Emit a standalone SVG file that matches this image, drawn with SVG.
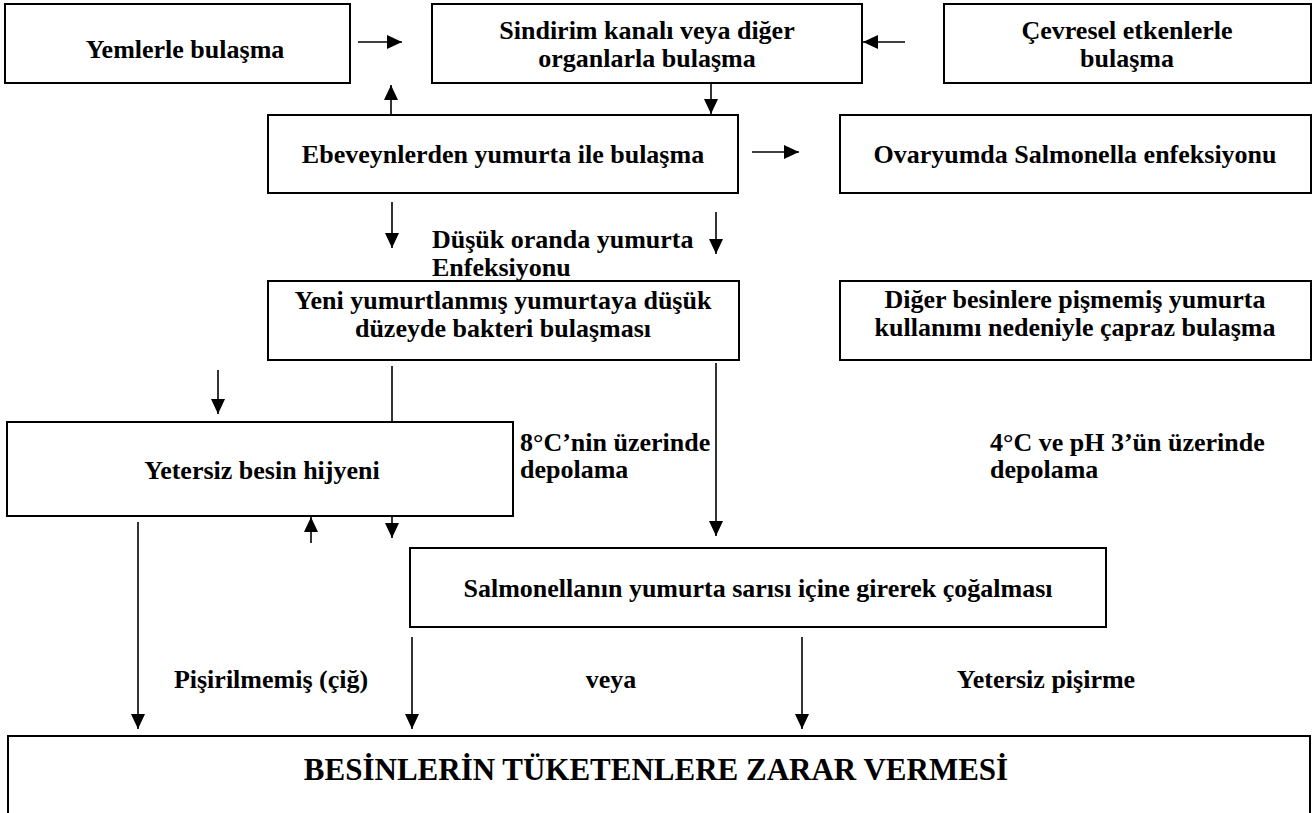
<svg xmlns="http://www.w3.org/2000/svg" width="1315" height="813" viewBox="0 0 1315 813">
<style>
  .box { fill: #ffffff; stroke: #000000; stroke-width: 2; }
  .t { font-family: "Liberation Serif", "Times New Roman", serif; font-weight: bold; font-size: 26px; fill: #000000; }
  .c { text-anchor: middle; }
  .big { font-size: 31px; }
  .ln { stroke: #000000; stroke-width: 1.6; fill: none; marker-end: url(#ah); }
</style>
<defs>
  <marker id="ah" markerUnits="userSpaceOnUse" markerWidth="15" markerHeight="14" refX="15" refY="7" orient="auto">
    <path d="M0,0 L15,7 L0,14 z" fill="#000000"/>
  </marker>
</defs>
<rect x="0" y="0" width="1315" height="813" fill="#ffffff"/>

<g id="connectors">
  <line class="ln" x1="358" y1="42" x2="402" y2="42"/>
  <line class="ln" x1="905" y1="42" x2="863" y2="42"/>
  <line class="ln" x1="391" y1="114" x2="391" y2="85"/>
  <line class="ln" x1="711" y1="84" x2="711" y2="114"/>
  <line class="ln" x1="752" y1="152" x2="799" y2="152"/>
  <line class="ln" x1="392" y1="202" x2="392" y2="248"/>
  <line class="ln" x1="716" y1="212" x2="716" y2="254"/>
  <line class="ln" x1="218" y1="370" x2="218" y2="414"/>
  <line class="ln" x1="392" y1="366" x2="392" y2="538"/>
  <line class="ln" x1="716" y1="363" x2="716" y2="536"/>
  <line class="ln" x1="311" y1="543" x2="311" y2="517"/>
  <line class="ln" x1="138" y1="522" x2="138" y2="729"/>
  <line class="ln" x1="412" y1="637" x2="412" y2="729"/>
  <line class="ln" x1="802" y1="637" x2="802" y2="729"/>
</g>

<g id="n-yemler">
  <rect class="box" x="5" y="4" width="345" height="79"/>
  <text class="t c" x="185" y="58">Yemlerle bulaşma</text>
</g>
<g id="n-sindirim">
  <rect class="box" x="432" y="4" width="430" height="79"/>
  <text class="t c" x="647" y="39">Sindirim kanalı veya diğer</text>
  <text class="t c" x="647" y="67">organlarla bulaşma</text>
</g>
<g id="n-cevresel">
  <rect class="box" x="944" y="4" width="367" height="79"/>
  <text class="t c" x="1127" y="39">Çevresel etkenlerle</text>
  <text class="t c" x="1127" y="67">bulaşma</text>
</g>
<g id="n-ebeveyn">
  <rect class="box" x="268" y="115" width="470" height="78"/>
  <text class="t c" x="503" y="163">Ebeveynlerden yumurta ile bulaşma</text>
</g>
<g id="n-ovaryum">
  <rect class="box" x="840" y="115" width="471" height="78"/>
  <text class="t c" x="1075" y="163">Ovaryumda Salmonella enfeksiyonu</text>
</g>
<g id="l-dusuk">
  <text class="t" x="432" y="248">Düşük oranda yumurta</text>
  <text class="t" x="432" y="276">Enfeksiyonu</text>
</g>
<g id="n-yeni">
  <rect class="box" x="268" y="281" width="471" height="79"/>
  <text class="t c" x="503" y="309">Yeni yumurtlanmış yumurtaya düşük</text>
  <text class="t c" x="503" y="337">düzeyde bakteri bulaşması</text>
</g>
<g id="n-diger">
  <rect class="box" x="840" y="281" width="471" height="79"/>
  <text class="t c" x="1075" y="308">Diğer besinlere pişmemiş yumurta</text>
  <text class="t c" x="1075" y="336">kullanımı nedeniyle çapraz bulaşma</text>
</g>
<g id="n-yetersiz">
  <rect class="box" x="7" y="422" width="506" height="94"/>
  <text class="t c" x="262" y="479">Yetersiz besin hijyeni</text>
</g>
<g id="l-8c">
  <text class="t" x="520" y="451">8°C’nin üzerinde</text>
  <text class="t" x="520" y="478">depolama</text>
</g>
<g id="l-4c">
  <text class="t" x="990" y="451">4°C ve pH 3’ün üzerinde</text>
  <text class="t" x="990" y="478">depolama</text>
</g>
<g id="n-salmonella">
  <rect class="box" x="410" y="548" width="696" height="79"/>
  <text class="t c" x="758" y="597">Salmonellanın yumurta sarısı içine girerek çoğalması</text>
</g>
<g id="l-pisir">
  <text class="t c" x="271" y="688">Pişirilmemiş (çiğ)</text>
  <text class="t c" x="611" y="688">veya</text>
  <text class="t c" x="1046" y="688">Yetersiz pişirme</text>
</g>
<g id="n-besin">
  <rect class="box" x="8" y="736" width="1302" height="100"/>
  <text class="t c big" x="656" y="780">BESİNLERİN TÜKETENLERE ZARAR VERMESİ</text>
</g>
</svg>
